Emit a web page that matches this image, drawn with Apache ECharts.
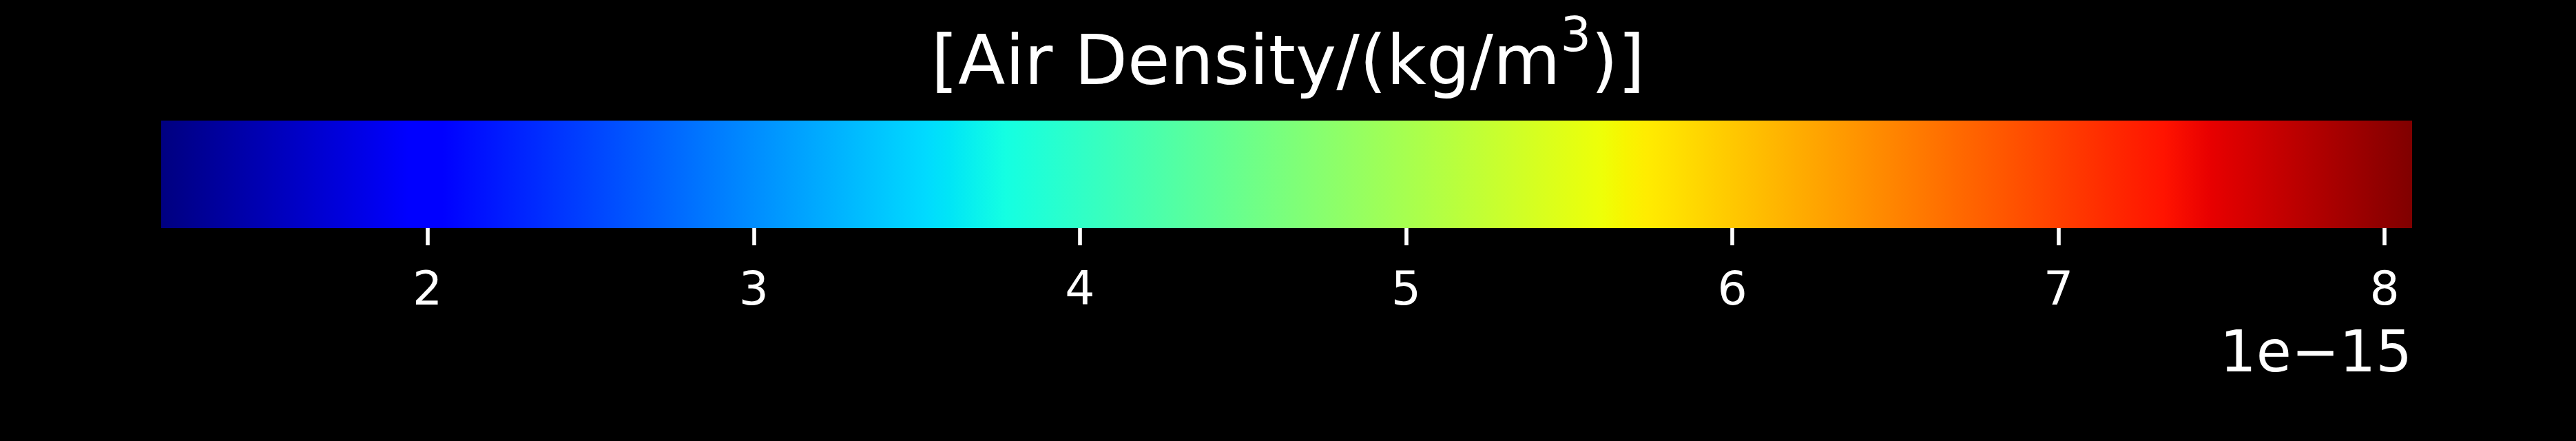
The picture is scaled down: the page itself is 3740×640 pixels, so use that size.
<!DOCTYPE html>
<html>
<head>
<meta charset="utf-8">
<script src="https://cdn.jsdelivr.net/npm/echarts@6/dist/echarts.min.js"></script>
<style>
html,body{margin:0;padding:0;background:#000;}
#chart{width:3740px;height:640px;}
</style>
</head>
<body>
<div id="chart"></div>
<script>
// ---- data (values in units of 1e-15 kg/m^3) ----
const densityRange = [1.1835, 8.084];          // colour scale min / max
const tickValues = [2, 3, 4, 5, 6, 7, 8];       // labelled ticks
const tickLabels = ['2', '3', '4', '5', '6', '7', '8'];
const offsetLabel = '1e\u221215';
const titleMain = '[Air Density/(kg/m';
const titleSup = '3';
const titleEnd = ')]';

// jet colormap stops (style)
const jetStops = [0, 0.11, 0.125, 0.34, 0.35, 0.375, 0.64, 0.65, 0.66, 0.89, 0.91, 1];
const jetColors = ['#000080', '#0000ff', '#0000ff', '#00dbff', '#00e5f7', '#14ffe2',
                   '#eeff08', '#f7f500', '#ffec00', '#ff1300', '#e80000', '#800000'];

const chart = echarts.init(document.getElementById('chart'), null, {renderer: 'canvas'});
const FONT = 'DejaVu Sans';

const option = {
  backgroundColor: '#000000',
  animation: false,
  title: [
    {
      text: '{a|' + titleMain + '}{s|' + titleSup + '}{a|' + titleEnd + '}',
      left: 'center',
      top: 21,
      padding: 0,
      textStyle: {
        fontWeight: 'normal',
        rich: {
          a: {fontFamily: FONT, fontSize: 100, fontWeight: 'normal', color: '#ffffff', lineHeight: 125, verticalAlign: 'bottom'},
          s: {fontFamily: FONT, fontSize: 70, fontWeight: 'normal', color: '#ffffff', lineHeight: 70, verticalAlign: 'top'}
        }
      }
    },
    {
      text: offsetLabel,
      right: 238,
      top: 476,
      padding: 0,
      textStyle: {fontFamily: FONT, fontSize: 83, fontWeight: 'normal', color: '#ffffff'}
    }
  ],
  grid: {left: 234, right: 238, top: 175, height: 156, containLabel: false},
  xAxis: {
    type: 'value',
    min: densityRange[0],
    max: densityRange[1],
    position: 'bottom',
    offset: 7,
    splitLine: {show: false},
    axisLine: {show: false},
    axisTick: {
      show: true, length: 25, inside: false,
      customValues: tickValues,
      lineStyle: {color: '#ffffff', width: 5.6}
    },
    axisLabel: {
      show: true, margin: 52,
      customValues: tickValues,
      formatter: function (v) { const i = tickValues.indexOf(v); return i >= 0 ? tickLabels[i] : ''; },
      color: '#ffffff', fontFamily: FONT, fontSize: 68
    }
  },
  yAxis: {
    type: 'value', min: 0, max: 1, show: false,
    splitLine: {show: false}
  },
  series: [{
    type: 'custom',
    silent: true,
    data: [[densityRange[0], densityRange[1]]],
    renderItem: function (params, api) {
      const p0 = api.coord([api.value(0), 1]);
      const p1 = api.coord([api.value(1), 0]);
      const stops = jetStops.map((o, i) => ({offset: o, color: jetColors[i]}));
      return {
        type: 'rect',
        shape: {x: p0[0], y: p0[1], width: p1[0] - p0[0], height: p1[1] - p0[1]},
        style: {fill: new echarts.graphic.LinearGradient(0, 0, 1, 0, stops)}
      };
    }
  }]
};
chart.setOption(option);
</script>
</body>
</html>
